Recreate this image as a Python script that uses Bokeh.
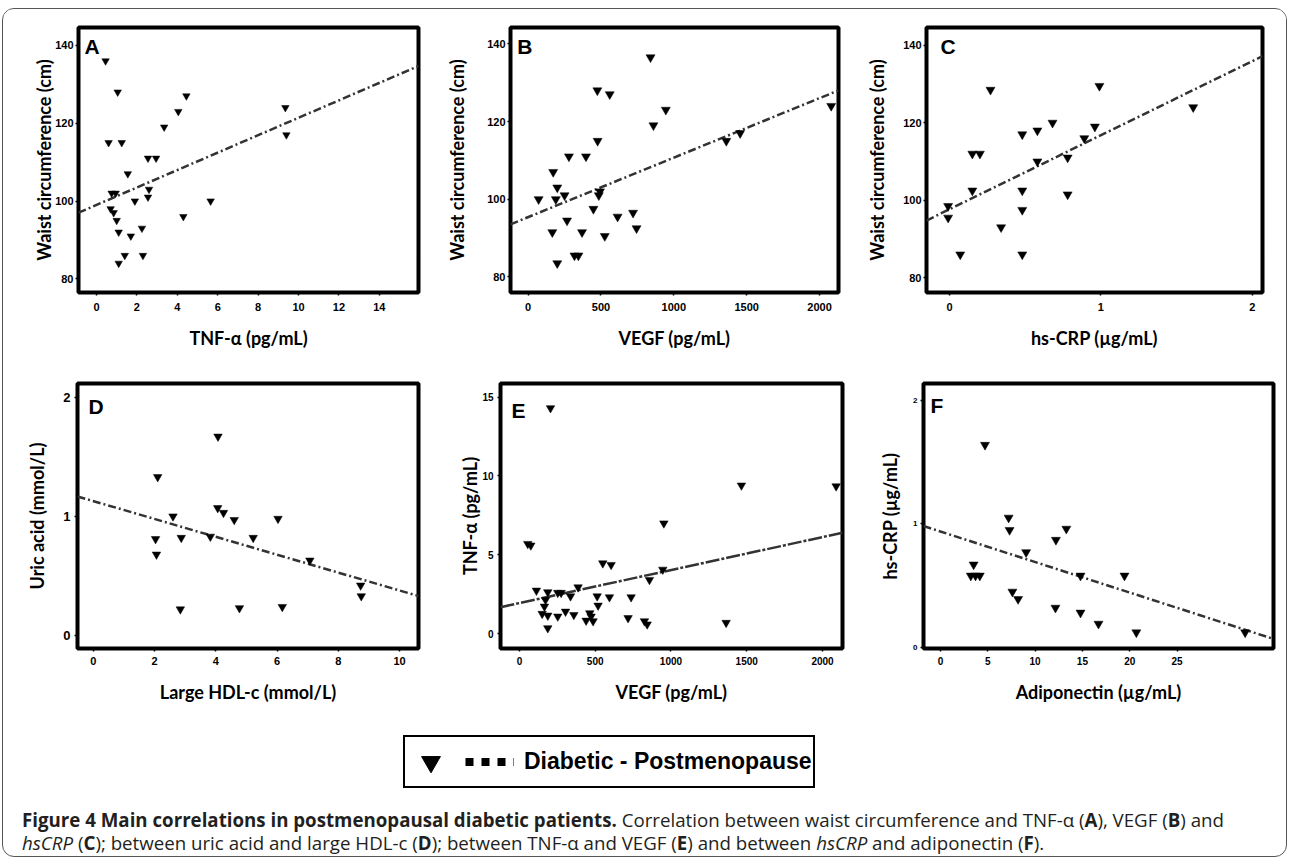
from bokeh.plotting import figure
from bokeh.layouts import column, row
from bokeh.models import Range1d, FixedTicker, Label, Legend, LegendItem, Div
from bokeh.embed import file_html
from bokeh.resources import INLINE

# ---------------- data ----------------
# A: waist circumference vs TNF-alpha
a_tnf = [0.45, 1.05, 0.6, 1.25, 1.55, 2.55, 2.95, 3.35, 4.05, 4.45, 0.75, 0.95, 0.7, 0.85,
         1.0, 1.1, 1.9, 1.7, 2.25, 1.4, 1.1, 2.3, 2.55, 2.6, 4.3, 5.65, 9.35, 9.4]
a_waist = [136, 128, 115, 115, 107, 111, 111, 119, 123, 127, 102, 102, 98, 97,
           95, 92, 100, 91, 93, 86, 84, 86, 101, 103, 96, 100, 124, 117]
a_fit = [99.0, 2.24]          # intercept, slope

# B: waist circumference vs VEGF
b_vegf = [840, 475, 560, 945, 860, 477, 280, 397, 172, 200, 72, 190, 250, 493, 485, 448,
          720, 614, 267, 744, 166, 370, 526, 318, 345, 200, 1360, 1455, 2080]
b_waist = [136.5, 128, 127, 123, 119, 115, 111, 111, 107, 103, 100, 100, 101, 102, 101, 97.5,
           96.5, 95.5, 94.5, 92.5, 91.5, 91.5, 90.5, 85.5, 85.5, 83.5, 115, 117, 124]
b_fit = [95.4, 0.01531]

# C: waist circumference vs hs-CRP
c_crp = [0.27, 0.99, 1.61, 0.68, 0.58, 0.48, 0.96, 0.89, 0.15, 0.2, 0.58, 0.78, 0.15, 0.48,
         0.78, -0.01, -0.01, 0.48, 0.34, 0.07, 0.48]
c_waist = [128.5, 129.5, 124, 120, 118, 117, 119, 116, 112, 112, 110, 111, 102.5, 102.5,
           101.5, 98.5, 95.5, 97.5, 93, 86, 86]
c_fit = [97.7, 19.1]

# D: uric acid vs large HDL-c
d_hdl = [4.07, 2.1, 2.6, 4.06, 4.25, 4.6, 6.03, 2.03, 2.87, 3.82, 5.22, 2.06, 7.07, 8.73,
         8.75, 2.84, 4.77, 6.17]
d_uric = [1.67, 1.33, 1.0, 1.07, 1.03, 0.97, 0.98, 0.81, 0.82, 0.83, 0.82, 0.68, 0.63, 0.42,
          0.33, 0.22, 0.23, 0.24]
d_fit = [1.128, -0.075]

# E: TNF-alpha vs VEGF
e_vegf = [205, 1465, 2090, 953, 55, 75, 550, 605, 946, 858, 112, 187, 253, 275, 387, 337, 513,
          594, 737, 172, 165, 519, 304, 359, 150, 187, 253, 464, 473, 440, 486, 717, 825, 843,
          1364, 187]
e_tnf = [14.3, 9.4, 9.35, 7.0, 5.7, 5.6, 4.47, 4.37, 4.07, 3.42, 2.74, 2.64, 2.6, 2.6, 2.95,
         2.38, 2.38, 2.32, 2.32, 2.15, 1.73, 1.79, 1.41, 1.2, 1.27, 1.16, 1.1, 1.31, 1.1, 0.84,
         0.8, 1.0, 0.8, 0.6, 0.7, 0.36]
e_fit = [1.95, 0.00209]

# F: hs-CRP vs adiponectin
f_adipo = [4.7, 7.2, 7.3, 13.3, 12.2, 9.05, 3.5, 3.2, 3.7, 4.15, 14.8, 19.45, 7.6, 8.2, 12.15,
           14.8, 16.7, 20.7, 32.2]
f_crp = [1.64, 1.05, 0.95, 0.96, 0.87, 0.77, 0.67, 0.58, 0.58, 0.58, 0.58, 0.58, 0.45, 0.39,
         0.32, 0.28, 0.19, 0.12, 0.12]
f_fit = [0.938, -0.02473]

# tick values
a_xticks = [0, 2, 4, 6, 8, 10, 12, 14]
waist_ticks = [80, 100, 120, 140]
vegf_ticks = [0, 500, 1000, 1500, 2000]
c_xticks = [0, 1, 2]
d_xticks = [0, 2, 4, 6, 8, 10]
d_yticks = [0, 1, 2]
e_yticks = [0, 5, 10, 15]
f_xticks = [0, 5, 10, 15, 20, 25]
f_yticks = [0, 1, 2]

legend_label = "Diabetic - Postmenopause"

TICK_FONT = "Liberation Sans"
AXIS_FONT = "Lato"


def make_panel(xs, ys, fit, xr, yr, xticks, yticks, xlabel, ylabel, letter, cfg):
    w, left, right = cfg["w"], cfg["left"], cfg["right"]
    h, top, bottom = cfg["h"], cfg["top"], cfg["bottom"]
    p = figure(width=w, height=h, x_range=Range1d(*xr), y_range=Range1d(*yr),
               output_backend="svg", toolbar_location=None, title=None,
               min_border_left=left, min_border_right=right,
               min_border_top=top, min_border_bottom=bottom)
    p.grid.visible = False
    p.outline_line_color = "black"
    p.outline_line_width = 4
    p.background_fill_color = "white"
    p.border_fill_color = "white"
    specs = ((p.xaxis[0], xticks, xlabel, cfg["xts"], cfg["xls"], cfg["xtst"]),
             (p.yaxis[0], yticks, ylabel, cfg["yts"], cfg["yls"], cfg["ytst"]))
    for ax, ticks, lab, tsize, lstand, tstand in specs:
        ax.ticker = FixedTicker(ticks=ticks, minor_ticks=[])
        ax.axis_line_color = None
        ax.major_tick_line_color = "black"
        ax.major_tick_line_width = 1.5
        ax.major_tick_out = 3
        ax.major_tick_in = 0
        ax.minor_tick_line_color = None
        ax.major_label_text_font = TICK_FONT
        ax.major_label_text_font_style = "bold"
        ax.major_label_text_font_size = tsize
        ax.major_label_text_color = "black"
        ax.major_label_standoff = tstand
        ax.axis_label = lab
        ax.axis_label_text_font = AXIS_FONT
        ax.axis_label_text_font_style = "bold"
        ax.axis_label_text_font_size = "18px"
        ax.axis_label_text_color = "black"
        ax.axis_label_standoff = lstand
    x0, x1 = xr
    p.line([x0, x1], [fit[0] + fit[1] * x0, fit[0] + fit[1] * x1],
           line_color="#333333", line_width=2.5, line_dash=cfg["dash"])
    p.scatter(xs, ys, marker="inverted_triangle", size=cfg["ms"],
              fill_color="black", line_color="black", line_width=0.5)
    fw = w - left - right
    fh = h - top - bottom
    dx, dy = cfg["loff"]
    p.add_layout(Label(x=x0 + dx * (x1 - x0) / fw, y=yr[1] - dy * (yr[1] - yr[0]) / fh,
                       text=letter, text_font="Liberation Sans", text_font_style="bold",
                       text_font_size="21px", text_baseline="top", text_align="left",
                       text_color="black"))
    return p


DASH = "8 3 2 3"
row1 = dict(h=356, top=18, bottom=73)
row2 = dict(h=345, top=18, bottom=62)

pA = make_panel(a_tnf, a_waist, a_fit, (-0.89, 15.94), (76.5, 144.6), a_xticks, waist_ticks,
                "TNF-\u03b1 (pg/mL)", "Waist circumference (cm)", "A",
                dict(row1, w=440, left=75, right=25, xts="11px", yts="11px", xls=13, yls=-3,
                     xtst=7, ytst=2, ms=7.5, dash=DASH, loff=(6, 7)))
pB = make_panel(b_vegf, b_waist, b_fit, (-121, 2130), (76.0, 144.2), vegf_ticks, waist_ticks,
                "VEGF (pg/mL)", "Waist circumference (cm)", "B",
                dict(row1, w=420, left=60, right=25, xts="11px", yts="11px", xls=13, yls=16,
                     xtst=7, ytst=2, ms=9, dash=DASH, loff=(7, 7)))
pC = make_panel(c_crp, c_waist, c_fit, (-0.153, 2.068), (76.2, 144.6), c_xticks, waist_ticks,
                "hs-CRP (\u00b5g/mL)", "Waist circumference (cm)", "C",
                dict(row1, w=423, left=61, right=24, xts="11px", yts="11px", xls=13, yls=12,
                     xtst=7, ytst=2, ms=9, dash=DASH, loff=(14, 7)))
pD = make_panel(d_hdl, d_uric, d_fit, (-0.52, 10.62), (-0.109, 2.115), d_xticks, d_yticks,
                "Large HDL-c (mmol/L)", "Uric acid (mmol/L)", "D",
                dict(row2, w=440, left=74, right=25, xts="11px", yts="13px", xls=13, yls=12,
                     xtst=5, ytst=4, ms=8.5, dash=DASH, loff=(11, 11)))
pE = make_panel(e_vegf, e_tnf, e_fit, (-125, 2132), (-0.93, 15.86), vegf_ticks, e_yticks,
                "VEGF (pg/mL)", "TNF-\u03b1 (pg/mL)", "E",
                dict(row2, w=420, left=57, right=21, xts="10px", yts="10px", xls=13, yls=-2,
                     xtst=5, ytst=4, ms=8.5, dash="14 2 3 2", loff=(11, 15)))
pF = make_panel(f_adipo, f_crp, f_fit, (-1.8, 35.2), (-0.01, 2.138), f_xticks, f_yticks,
                "Adiponectin (\u00b5g/mL)", "hs-CRP (\u00b5g/mL)", "F",
                dict(row2, w=423, left=60, right=13, xts="10px", yts="8px", xls=13, yls=9,
                     xtst=5, ytst=3, ms=9, dash=DASH, loff=(7, 10)))

# ---------------- legend strip ----------------
lf = figure(width=1283, height=78, x_range=Range1d(0, 1), y_range=Range1d(0, 1),
            output_backend="svg", toolbar_location=None, title=None,
            x_axis_type=None, y_axis_type=None, min_border=0)
lf.grid.visible = False
lf.outline_line_color = None
# key renderers carry a single point outside the visible range; only their legend keys show
r_mark = lf.scatter(x=[-5], y=[-5], marker="inverted_triangle", fill_color="black",
                    line_color="black")
r_line = lf.line(x=[-5, -4], y=[-5, -5], line_color="black", line_width=8, line_dash="8 8")
leg = Legend(items=[LegendItem(label="", renderers=[r_mark]),
                    LegendItem(label=legend_label, renderers=[r_line])],
             orientation="horizontal", location=(400, 0),
             border_line_color="black", border_line_width=2, border_line_alpha=1.0,
             background_fill_color="white", background_fill_alpha=1.0,
             padding=1, spacing=0, margin=0, glyph_width=49, glyph_height=47,
             label_standoff=10, label_width=0,
             label_text_font="Liberation Sans", label_text_font_style="bold",
             label_text_font_size="23px", label_text_color="black")
lf.add_layout(leg)

# ---------------- caption ----------------
caption_html = (
    '<div style="font-family:\'Open Sans\'; font-size:18.7px; line-height:23px; color:#231f20;'
    ' padding:20px 0 0 19px; white-space:nowrap;">'
    '<b>Figure 4 Main correlations in postmenopausal diabetic patients.</b> '
    'Correlation between waist circumference and TNF-\u03b1 (<b>A</b>), VEGF (<b>B</b>) and<br>'
    '<i>hsCRP</i> (<b>C</b>); between uric acid and large HDL-c (<b>D</b>); between TNF-\u03b1 '
    'and VEGF (<b>E</b>) and between <i>hsCRP</i> and adiponectin (<b>F</b>).</div>'
)
cap = Div(text=caption_html, width=1283, height=68, margin=0)

layout = column(row(pA, pB, pC), row(pD, pE, pF), lf, cap,
                styles={"border": "1px solid #555555", "border-radius": "12px",
                        "overflow": "hidden", "background-color": "white",
                        "margin-top": "8px", "margin-left": "2px"})

open("out.html", "w").write(file_html(layout, INLINE))
